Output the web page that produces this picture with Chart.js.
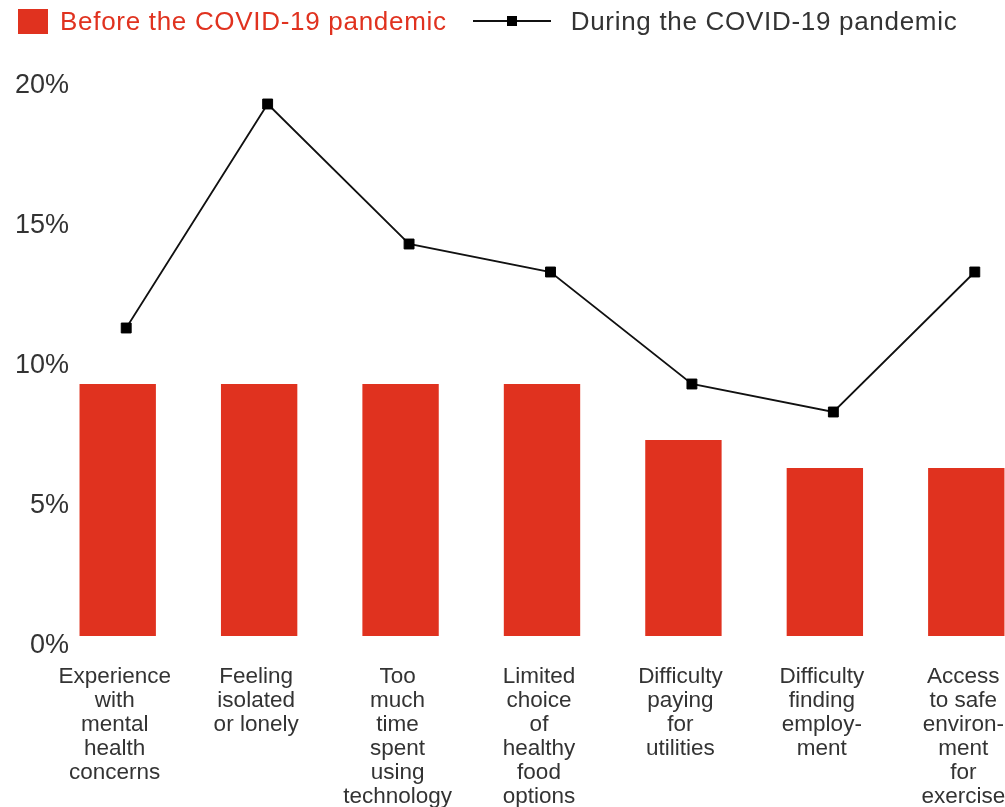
<!DOCTYPE html>
<html>
<head>
<meta charset="utf-8">
<title>Social needs before and during the COVID-19 pandemic</title>
<script src="https://cdn.jsdelivr.net/npm/chart.js@4.4.1/dist/chart.umd.min.js"></script>
<style>
  html, body { margin: 0; padding: 0; background: #fff; overflow: hidden; }
  #wrap { position: relative; width: 1045px; height: 807px; }
  #legend {
    position: absolute; left: 18px; top: 0; height: 42px;
    display: flex; align-items: center; white-space: nowrap;
    font-family: 'Liberation Sans', Arial, sans-serif; font-size: 26px; letter-spacing: 0.7px;
  }
  .lg-item { display: flex; align-items: center; }
  .lg-box { display: inline-block; width: 30px; height: 25px; margin-right: 12px; }
  .lg-line { position: relative; display: inline-block; width: 78px; height: 2px; margin: 0 20px 0 26px; }
  .lg-dot { position: absolute; left: 34px; top: -4px; width: 10px; height: 10px; }
</style>
</head>
<body>
<div id="wrap">
  <div id="legend"></div>
  <canvas id="chart" width="1045" height="807"></canvas>
</div>
<script>
const categories = [
  ['Experience', 'with', 'mental', 'health', 'concerns'],
  ['Feeling', 'isolated', 'or lonely'],
  ['Too', 'much', 'time', 'spent', 'using', 'technology'],
  ['Limited', 'choice', 'of', 'healthy', 'food', 'options'],
  ['Difficulty', 'paying', 'for', 'utilities'],
  ['Difficulty', 'finding', 'employ-', 'ment'],
  ['Access', 'to safe', 'environ-', 'ment', 'for', 'exercise']
];
const beforePandemic = [9, 9, 9, 9, 7, 6, 6];
const duringPandemic = [11, 19, 14, 13, 9, 8, 13];
const yTicks = [0, 5, 10, 15, 20];

const RED = '#e0321f';
const INK = '#333';

// legend is built as html from the chart's own legend items
const htmlLegend = {
  id: 'htmlLegend',
  afterUpdate(chart){
    const box = document.getElementById('legend');
    box.innerHTML = '';
    const items = chart.options.plugins.legend.labels.generateLabels(chart);
    items.sort((a, b) => a.datasetIndex - b.datasetIndex);
    items.forEach(item => {
      const ds = chart.data.datasets[item.datasetIndex];
      const el = document.createElement('div');
      el.className = 'lg-item';
      const mark = document.createElement('span');
      const txt = document.createElement('span');
      if(ds.type === 'line'){
        mark.className = 'lg-line';
        mark.style.background = item.strokeStyle;
        const dot = document.createElement('span');
        dot.className = 'lg-dot';
        dot.style.background = ds.pointBackgroundColor;
        mark.appendChild(dot);
        txt.style.color = INK;
      } else {
        mark.className = 'lg-box';
        mark.style.background = item.fillStyle;
        txt.style.color = item.fillStyle;
      }
      txt.textContent = item.text;
      el.appendChild(mark);
      el.appendChild(txt);
      box.appendChild(el);
    });
  }
};

// the line sits a little to the right of the bar centres
const lineNudge = {
  id: 'lineNudge',
  beforeDatasetDraw(chart, args){
    if(args.meta.type !== 'line') return;
    chart.ctx.save();
    chart.ctx.translate(8.5, 0);
  },
  afterDatasetDraw(chart, args){
    if(args.meta.type !== 'line') return;
    chart.ctx.restore();
  }
};

Chart.defaults.font.family = "'Liberation Sans', Arial, sans-serif";

new Chart(document.getElementById('chart'), {
  type: 'bar',
  data: {
    labels: categories,
    datasets: [
      {
        type: 'bar',
        label: 'Before the COVID-19 pandemic',
        data: beforePandemic,
        backgroundColor: RED,
        barPercentage: 0.54,
        categoryPercentage: 1
      },
      {
        type: 'line',
        label: 'During the COVID-19 pandemic',
        data: duringPandemic,
        borderColor: '#111',
        borderWidth: 1.8,
        tension: 0,
        pointStyle: 'rect',
        pointRadius: 7,
        pointBorderWidth: 1,
        pointBackgroundColor: '#000',
        pointBorderColor: '#000'
      }
    ]
  },
  options: {
    responsive: false,
    animation: false,
    layout: { padding: { top: 76, left: 0, right: 0, bottom: 0 } },
    plugins: {
      legend: { display: false },
      tooltip: { enabled: false }
    },
    scales: {
      x: {
        offset: true,
        grid: { display: false, drawTicks: false },
        border: { display: false },
        ticks: {
          autoSkip: false, maxRotation: 0, minRotation: 0,
          padding: 29, labelOffset: -3, color: INK,
          font: { size: 22.5, lineHeight: '24px' }
        },
        afterFit(s){ s.height = 171; }
      },
      y: {
        min: 0, max: 20,
        grid: { display: false, drawTicks: false },
        border: { display: false },
        ticks: {
          // labels sit over the plot edge, right-aligned
          mirror: true, crossAlign: 'far',
          padding: -32, labelOffset: 10, color: INK,
          font: { size: 27 },
          callback: v => v + '%'
        },
        afterBuildTicks(s){ s.ticks = yTicks.map(v => ({ value: v })); },
        afterFit(s){ s.width = 47; }
      }
    }
  },
  plugins: [htmlLegend, lineNudge]
});
</script>
</body>
</html>
